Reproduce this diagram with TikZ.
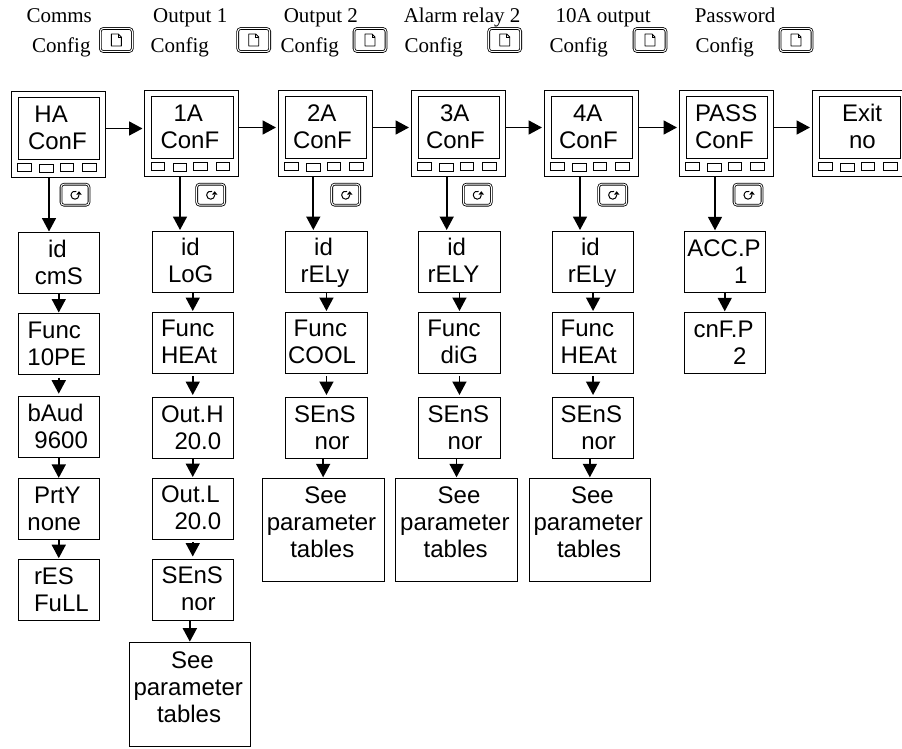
\documentclass[tikz,border=0pt]{standalone}
\usepackage{fontspec}
\setmainfont{Liberation Serif}
\newfontfamily\panelfont{Liberation Sans}
\usetikzlibrary{arrows.meta, positioning}

\newcommand{\ind}[1]{\hspace*{#1pt}\rule[-4.4pt]{0pt}{24.4pt}}
\newcommand{\seetext}{\ind{42}See\\\ind{4.5}parameter\\\ind{28}tables\rule[-18.9pt]{0pt}{1pt}}
\tikzset{
  pageicon/.pic={
    \draw[line width=0.9pt, line join=round] (-5,6) -- (-5,-6) -- (2,-6) -- (5,-3) -- (5,6) -- cycle;
    \draw[line width=0.7pt] (2,-6) -- (2,-3) -- (5,-3);
  },
  scrollicon/.pic={
    \draw[line width=1pt] (4,0.5) arc[start angle=0, end angle=-290, radius=4pt];
    \fill (1.2,0) -- (6.8,0) -- (4,-3.5) -- cycle;
  }
}

\begin{document}
\begin{tikzpicture}[x=1pt, y=-1pt, line width=1pt,
  panel/.style={rectangle, draw, outer sep=0pt, inner sep=0pt,
                minimum width=94pt, minimum height=85pt, anchor=north west},
  screen/.style={rectangle, draw, outer sep=0pt, inner xsep=0pt, inner ysep=0pt, anchor=north west,
                 minimum height=62pt, text width=81.5pt, align=left,
                 font=\panelfont\fontsize{24}{27}\selectfont},
  btn/.style={rectangle, draw, outer sep=0pt, inner sep=0pt, anchor=north west,
              line width=0.7pt, minimum width=13.5pt, minimum height=8pt},
  param/.style={rectangle, draw, outer sep=0pt, inner xsep=0pt, inner ysep=0pt,
                minimum height=61pt, text width=81.5pt, align=left,
                font=\panelfont\fontsize{24}{27}\selectfont},
  seebox/.style={rectangle, draw, outer sep=0pt, inner xsep=0pt, inner ysep=0pt,
                 minimum height=103.5pt, text width=121.7pt, align=left,
                 font=\panelfont\fontsize{24}{27}\selectfont},
  pagekey/.style={rectangle, rounded corners=3pt, draw, double, double distance=1pt, line width=0.8pt,
                  outer sep=0pt, minimum width=32pt, minimum height=23pt},
  scrollkey/.style={rectangle, rounded corners=3pt, draw, double, double distance=1pt, line width=0.8pt,
                    outer sep=0pt, minimum width=28pt, minimum height=21pt},
  headtext/.style={anchor=base west, inner sep=0pt, font=\fontsize{21}{25}\selectfont},
  a/.style={-{Triangle[length=13.5pt, width=14pt]}, line width=1.7pt, shorten >=1pt},
  gapa/.style={a, shorten <=3pt, shorten >=2.5pt}]
  \useasboundingbox (0,0) rectangle (902,749);

  % headings
  \node[headtext] (l1) at (26,22.7) {Comms};
  \node[headtext] (c1) at (31.7,53) {Config};
  \node[headtext] (l2) at (152.7,22.7) {Output 1};
  \node[headtext] (c2) at (150,53) {Config};
  \node[headtext] (l3) at (283.3,22.7) {Output 2};
  \node[headtext] (c3) at (280,53) {Config};
  \node[headtext] (l4) at (403.3,22.7) {Alarm relay 2};
  \node[headtext] (c4) at (404,53) {Config};
  \node[headtext] (l5) at (555,22.7) {10A output};
  \node[headtext] (c5) at (549,53) {Config};
  \node[headtext] (l6) at (694.3,22.7) {Password};
  \node[headtext] (c6) at (695,53) {Config};

  % page keys
  \foreach \k/\x in {k1/116.3, k2/253.7, k3/370, k4/504.7, k5/650, k6/796} {
    \node[pagekey] (\k) at (\x,40) {};
    \pic at (\k) {pageicon};
  }

  % instrument panels
  \node[panel] (ha) at (11,92) {};
  \node[panel] (a1) at (144.5,91) {};
  \node[panel] (a2) at (278,91) {};
  \node[panel] (a3) at (411,91) {};
  \node[panel] (a4) at (544,91) {};
  \node[panel] (pass) at (679,91) {};
  \node[panel] (exit) at (812,91) {};
  \node[screen] (ha-s) at ([shift={(7,5.5)}]ha.north west) {\ind{16.5}HA\\\ind{10}ConF};
  \node[screen] (a1-s) at ([shift={(7,5.5)}]a1.north west) {\ind{22}1A\\\ind{9}ConF};
  \node[screen] (a2-s) at ([shift={(7,5.5)}]a2.north west) {\ind{22}2A\\\ind{8}ConF};
  \node[screen] (a3-s) at ([shift={(7,5.5)}]a3.north west) {\ind{22}3A\\\ind{8}ConF};
  \node[screen] (a4-s) at ([shift={(7,5.5)}]a4.north west) {\ind{22}4A\\\ind{8}ConF};
  \node[screen] (pass-s) at ([shift={(7,5.5)}]pass.north west) {\ind{9}PASS\\\ind{9}ConF};
  \node[screen] (exit-s) at ([shift={(7,5.5)}]exit.north west) {\ind{23}Exit\\\ind{30}no};
  \foreach \p in {ha,a1,a2,a3,a4,pass,exit}
    \foreach \k/\bx/\by in {1/6.5/71.3, 2/28.5/72.3, 3/49.2/71.3, 4/71.5/71.3}
      \node[btn] (\p-b\k) at ([shift={(\bx,\by)}]\p.north west) {};

  % scroll keys
  \foreach \k/\x in {ha/75, a1/210.7, a2/345.7, a3/477.3, a4/612.7, pass/748} {
    \node[scrollkey] (\k-k) at (\x,194.7) {};
    \pic at (\k-k) {scrollicon};
  }

  % comms column
  \node[param, anchor=north west] (haid) at (18,232.5) {\ind{30}id\\\ind{17}cmS};
  \node[param, below=20pt of haid] (hafunc) {\ind{9.5}Func\\\ind{9.5}10PE};
  \node[param, below=21.7pt of hafunc] (habaud) {\ind{9.5}bAud\\\ind{16.5}9600};
  \node[param, below=21.7pt of habaud] (haprty) {\ind{16}PrtY\\\ind{9.5}none};
  \node[param, below=19.3pt of haprty] (hares) {\ind{16}rES\\\ind{16}FuLL};

  % output 1 column
  \node[param, anchor=north west] (a1id) at (152,231) {\ind{29}id\\\ind{16}LoG};
  \node[param, below=20pt of a1id] (a1func) {\ind{9}Func\\\ind{9}HEAt};
  \node[param, below=24.5pt of a1func] (a1outh) {\ind{9}Out.H\\\ind{22.5}20.0};
  \node[param, below=19.5pt of a1outh] (a1outl) {\ind{9}Out.L\\\ind{22.5}20.0};
  \node[param, below=20pt of a1outl] (a1sens) {\ind{9.5}SEnS\\\ind{29}nor};
  \node[seebox, anchor=north west] (a1see) at (129,642.7) {\seetext};

  % output 2 column
  \node[param, anchor=north west] (a2id) at (285.7,231) {\ind{28.5}id\\\ind{15}rELy};
  \node[param, below=20pt of a2id] (a2func) {\ind{8}Func\\\ind{2.3}COOL};
  \node[param, below=24.5pt of a2func] (a2sens) {\ind{8.5}SEnS\\\ind{29}nor};
  \node[seebox, anchor=north west] (a2see) at (262.3,478.3) {\seetext};

  % alarm relay column
  \node[param, anchor=north west] (a3id) at (418.7,231) {\ind{28.7}id\\\ind{9}rELY};
  \node[param, below=20pt of a3id] (a3func) {\ind{8.6}Func\\\ind{22}diG};
  \node[param, below=24.5pt of a3func] (a3sens) {\ind{9}SEnS\\\ind{29}nor};
  \node[seebox, anchor=north west] (a3see) at (395.7,478.3) {\seetext};

  % 10A column
  \node[param, anchor=north west] (a4id) at (552.3,231) {\ind{28.8}id\\\ind{15.5}rELy};
  \node[param, below=20pt of a4id] (a4func) {\ind{8.4}Func\\\ind{8.4}HEAt};
  \node[param, below=24.5pt of a4func] (a4sens) {\ind{8.4}SEnS\\\ind{29}nor};
  \node[seebox, anchor=north west] (a4see) at (529,478.3) {\seetext};

  % password column
  \node[param, anchor=north west] (accp) at (684,231.3) {\ind{3.4}ACC.P\\\ind{50}1};
  \node[param, below=20pt of accp] (cnfp) {\ind{9.6}cnF.P\\\ind{49}2};

  % connectors
  \foreach \p/\q in {ha/a1, a1/a2, a2/a3, a3/a4, a4/pass, pass/exit}
    \draw[a, shorten >=2pt] (\p.east |- \p-s) -- (\q.west |- \p-s);
  \foreach \p/\q/\d in {ha/haid/-9, a1/a1id/-11.5, a2/a2id/-11.7, a3/a3id/-11.3, a4/a4id/-11, pass/accp/-11}
    \draw[a] ([xshift=\d pt]\p.south) -- ([xshift=\d pt]\p.south |- \q.north);
  \foreach \p/\q in {haid/hafunc, habaud/haprty, haprty/hares, a1id/a1func, a1outh/a1outl,
                     a2id/a2func, a3id/a3func, a4id/a4func, accp/cnfp}
    \draw[a] (\p.south) -- (\q.north);
  \foreach \p/\q in {hafunc/habaud, a1func/a1outh, a1outl/a1sens, a2func/a2sens, a3func/a3sens, a4func/a4sens}
    \draw[gapa] (\p.south) -- (\q.north);
  \foreach \p/\q in {a1sens/a1see, a2sens/a2see, a3sens/a3see, a4sens/a4see}
    \draw[a] (\q.north |- \p.south) -- (\q.north);
\end{tikzpicture}
\end{document}
